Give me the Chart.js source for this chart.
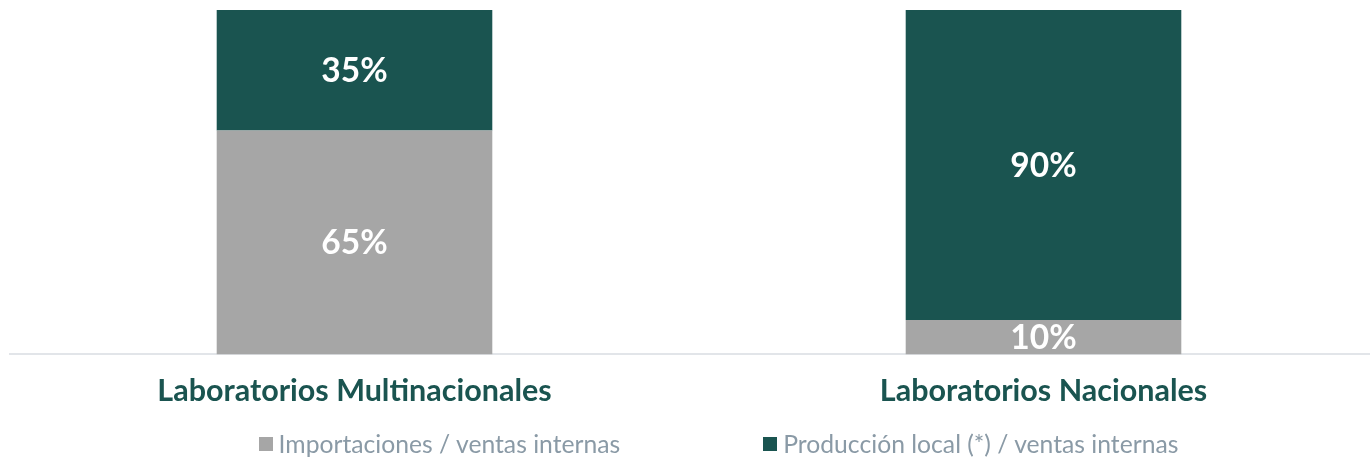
<!DOCTYPE html>
<html>
<head>
<meta charset="utf-8">
<script src="https://cdn.jsdelivr.net/npm/chart.js@4.4.1/dist/chart.umd.min.js"></script>
<style>
    html, body { margin: 0; padding: 0; background: #fff; overflow: hidden; }
    #wrap { position: relative; width: 1400px; height: 432px; }
    #legend {
        position: absolute; left: 0; top: 429px; width: 1437px;
        display: flex; justify-content: center; gap: 143px;
        font-family: Lato, sans-serif; font-size: 24.7px; line-height: 30px; color: #8a9aa6;
    }
    #legend .item { display: flex; align-items: center; white-space: nowrap; }
    #legend .box { width: 14px; height: 14px; margin-right: 6px; }
</style>
</head>
<body>
<div id="wrap"><canvas id="chart"></canvas></div>
<div id="legend"></div>
<script>
const categories = ['Laboratorios Multinacionales', 'Laboratorios Nacionales'];
const seriesNames = ['Importaciones / ventas internas', 'Producción local (*) / ventas internas'];
const importaciones = [65, 10];
const produccionLocal = [35, 90];

const GREEN = '#1a5450';
const GRAY = '#a6a6a6';

// draws the percentage inside each bar segment
const valueLabels = {
    id: 'valueLabels',
    afterDatasetsDraw(chart) {
        const ctx = chart.ctx;
        ctx.save();
        ctx.fillStyle = '#ffffff';
        ctx.font = 'bold 33.5px Lato, sans-serif';
        ctx.textAlign = 'center';
        ctx.textBaseline = 'middle';
        chart.data.datasets.forEach((ds, i) => {
            chart.getDatasetMeta(i).data.forEach((bar, j) => {
                const p = bar.getCenterPoint();
                ctx.fillText(ds.data[j] + '%', p.x, p.y + 1);
            });
        });
        ctx.restore();
    }
};

// html legend built from the datasets
const htmlLegend = {
    id: 'htmlLegend',
    afterUpdate(chart) {
        const el = document.getElementById('legend');
        el.innerHTML = '';
        chart.data.datasets.forEach(ds => {
            const item = document.createElement('div');
            item.className = 'item';
            const box = document.createElement('span');
            box.className = 'box';
            box.style.background = ds.backgroundColor;
            const txt = document.createElement('span');
            txt.textContent = ds.label;
            item.appendChild(box);
            item.appendChild(txt);
            el.appendChild(item);
        });
    }
};

new Chart(document.getElementById('chart').getContext('2d'), {
    type: 'bar',
    data: {
        labels: categories,
        datasets: [{
            label: seriesNames[0],
            data: importaciones,
            backgroundColor: GRAY,
            categoryPercentage: 1,
            barPercentage: 0.4
        }, {
            label: seriesNames[1],
            data: produccionLocal,
            backgroundColor: GREEN,
            categoryPercentage: 1,
            barPercentage: 0.4
        }]
    },
    options: {
        responsive: true,
        maintainAspectRatio: false,
        animation: false,
        layout: { padding: { top: 10, left: 10, right: 12, bottom: 5 } },
        plugins: {
            legend: { display: false },
            tooltip: { enabled: false }
        },
        scales: {
            x: {
                stacked: true,
                grid: { display: false, drawTicks: false },
                border: { display: true, color: '#e2e5e9', width: 2 },
                ticks: {
                    padding: 18,
                    color: GREEN,
                    font: { family: 'Lato, sans-serif', size: 30.5, weight: 'bold' }
                }
            },
            y: {
                stacked: true,
                display: false,
                min: 0,
                max: 100
            }
        }
    },
    plugins: [valueLabels, htmlLegend]
});
</script>
</body>
</html>
